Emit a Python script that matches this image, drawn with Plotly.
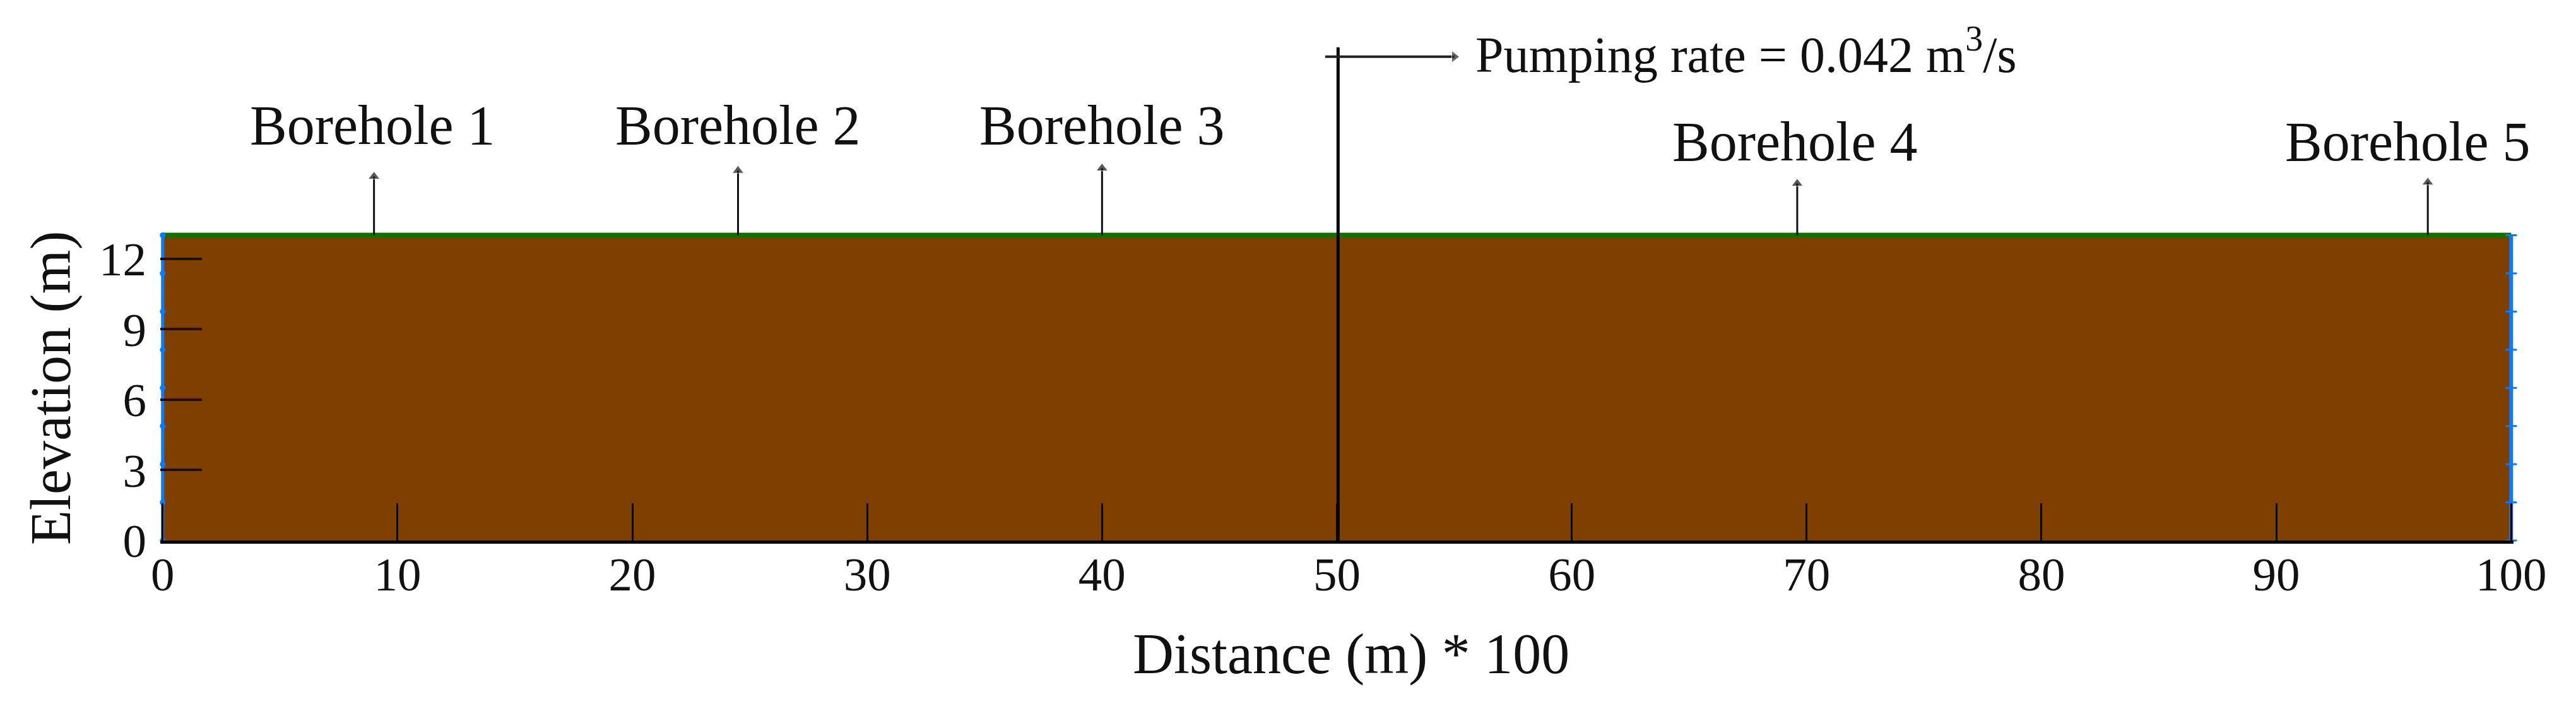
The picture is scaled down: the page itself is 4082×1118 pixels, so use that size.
import plotly.graph_objects as go

# ground section
section_x = [0, 100, 100, 0, 0]
section_y = [0, 0, 13, 13, 0]
ground_x = [0, 100]
ground_y = [13, 13]
# boundary nodes on both sides
node_y = [0, 1.625, 3.25, 4.875, 6.5, 8.125, 9.75, 11.375, 13]

# pumping well
well_x = [50.05, 50.05]
well_y = [0, 21]
flow_x = [49.5, 55.0]
flow_y = [20.6, 20.6]

boreholes = ['Borehole 1', 'Borehole 2', 'Borehole 3', 'Borehole 4', 'Borehole 5']
borehole_x = [9, 24.5, 40, 69.6, 96.45]
borehole_top = [15.5, 15.75, 15.85, 15.2, 15.25]
label_x = [8.95, 24.5, 40, 69.5, 95.6]
label_y = [17.67, 17.67, 17.67, 16.97, 16.97]

xticks = [0, 10, 20, 30, 40, 50, 60, 70, 80, 90, 100]
yticks = [0, 3, 6, 9, 12]

FONT = 'Liberation Serif'
BLUE = '#0a7bff'

fig = go.Figure()
fig.add_trace(go.Scatter(x=section_x, y=section_y, mode='lines', fill='toself',
                         fillcolor='#7f3f00', line=dict(width=0), hoverinfo='skip'))
fig.add_trace(go.Scatter(x=ground_x, y=ground_y, mode='lines',
                         line=dict(color='#127000', width=8)))
fig.add_trace(go.Scatter(x=[0] * len(node_y), y=node_y, mode='lines+markers', cliponaxis=False,
                         line=dict(color=BLUE, width=5),
                         marker=dict(symbol='circle', size=9, color=BLUE)))
fig.add_trace(go.Scatter(x=[100] * len(node_y), y=node_y, mode='lines+markers', cliponaxis=False,
                         line=dict(color=BLUE, width=6),
                         marker=dict(symbol='line-ew', size=13, color=BLUE,
                                     line=dict(color=BLUE, width=3))))
fig.add_trace(go.Scatter(x=well_x, y=well_y, mode='lines', line=dict(color='black', width=5)))

# arrows off the surface
for i in range(len(boreholes)):
    fig.add_trace(go.Scatter(x=[borehole_x[i], borehole_x[i]], y=[13, borehole_top[i]],
                             mode='lines+markers', line=dict(color='#111111', width=3),
                             marker=dict(symbol='triangle-up', size=[0, 16], color='#111111')))
    fig.add_annotation(x=label_x[i], y=label_y[i], text=boreholes[i], showarrow=False,
                       font=dict(family=FONT, size=88, color='#111111'))

fig.add_trace(go.Scatter(x=flow_x, y=flow_y, mode='lines+markers',
                         line=dict(color='#222222', width=4),
                         marker=dict(symbol='triangle-right', size=[0, 16], color='#222222')))
fig.add_annotation(x=55.85, y=20.85, xanchor='left', showarrow=False,
                   text='Pumping rate = 0.042 m<sup>3</sup>/s',
                   font=dict(family=FONT, size=80, color='#111111'))
fig.add_annotation(x=0, y=6.5, xshift=-176, textangle=-90, showarrow=False,
                   text='Elevation (m)',
                   font=dict(family=FONT, size=90, color='#111111'))
fig.add_annotation(x=50.6, y=0, yshift=-180, showarrow=False,
                   text='Distance (m) * 100',
                   font=dict(family=FONT, size=90, color='#111111'))

fig.update_layout(
    width=4066, height=1102,
    margin=dict(l=246.3, r=91.3, t=0, b=254),
    paper_bgcolor='white', plot_bgcolor='white',
    showlegend=False,
    font=dict(family=FONT, color='#111111'),
    xaxis=dict(range=[-0.1, 100.1], tickvals=xticks, ticks='inside', ticklen=59, tickwidth=3,
               tickcolor='black', showgrid=False, zeroline=False,
               showline=True, linecolor='black', linewidth=5,
               tickfont=dict(family=FONT, size=75), ticklabelstandoff=-16),
    yaxis=dict(range=[0, 22.8], tickvals=yticks, ticks='inside', ticklen=66, tickwidth=4,
               tickcolor='#1e0f00', showgrid=False, zeroline=False, showline=False,
               tickfont=dict(family=FONT, size=75), ticklabelstandoff=21),
)

fig.write_html('out.html')
